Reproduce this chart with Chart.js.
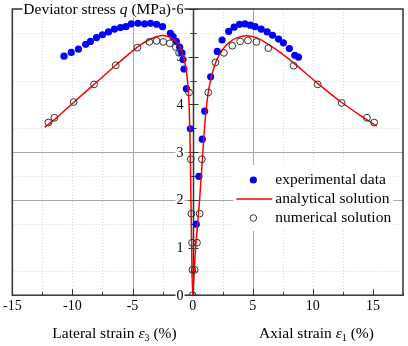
<!DOCTYPE html>
<html>
<head>
<meta charset="utf-8">
<script src="https://cdn.jsdelivr.net/npm/chart.js@4.4.1/dist/chart.umd.min.js"></script>
<style>
  html, body { margin: 0; padding: 0; background: #fff; }
  #wrap { width: 408px; height: 346px; }
</style>
</head>
<body>
<div id="wrap"><canvas id="stressChart"></canvas></div>
<script>
// valores das marcas dos eixos
const xTickValues = [-15, -10, -5, 0, 5, 10, 15];
const yTickValues = [0, 1, 2, 3, 4, 5, 6];

// dados experimentais (ramo lateral e depois ramo axial)
const expStrain = [
  -10.7, -10.1, -9.5, -8.9, -8.5, -8.0, -7.5, -7.0, -6.5, -6.0, -5.55, -5.1, -4.55, -4.0, -3.5, -3.0, -2.5,
  -1.85, -1.63, -1.35, -1.08, -0.89, -0.8, -0.72, -0.52, -0.19,
  0.3, 0.52, 0.8, 1.0, 1.5, 2.05, 2.45, 3.0, 3.45, 3.9, 4.35, 4.8, 5.2, 5.7, 6.2, 6.65, 7.15, 7.55, 8.05, 8.5, 8.8,
];
const expStress = [
  5.01, 5.09, 5.16, 5.26, 5.32, 5.40, 5.46, 5.52, 5.58, 5.61, 5.63, 5.69, 5.70, 5.69, 5.70, 5.68, 5.63,
  5.49, 5.42, 5.32, 5.20, 5.08, 4.94, 4.74, 4.33, 3.49,
  1.49, 2.49, 3.27, 3.86, 4.58, 5.11, 5.35, 5.53, 5.62, 5.68, 5.69, 5.66, 5.63, 5.58, 5.52, 5.45, 5.37, 5.29, 5.17, 5.03, 4.99,
];

// solução numérica
const numStrain = [
  -12.0, -11.5, -9.9, -8.2, -6.4, -4.6, -3.6, -3.0, -2.45, -1.9, -1.4, -1.13, -0.3, -0.15, -0.1, -0.05, -0.02, 0,
  0.17, 0.36, 0.58, 0.77, 1.3, 1.9, 2.6, 3.3, 3.95, 4.6, 5.3, 6.3, 8.4, 10.4, 12.4, 14.5, 15.1,
];
const numStress = [
  3.62, 3.72, 4.05, 4.42, 4.82, 5.19, 5.31, 5.33, 5.31, 5.28, 5.20, 5.08, 4.25, 2.85, 1.71, 1.10, 0.53, 0,
  0.53, 1.10, 1.71, 2.85, 4.25, 4.88, 5.08, 5.23, 5.32, 5.34, 5.31, 5.18, 4.81, 4.42, 4.03, 3.72, 3.62,
];

// solução analítica
const anaStrain = [
  -12.3, -11.5, -10.0, -8.2, -6.4, -4.6, -3.6, -2.7, -2.0, -1.5, -1.1, -0.8, -0.6, -0.45, -0.35, -0.28, -0.2, -0.14, -0.08, 0,
  0.25, 0.58, 0.85, 1.05, 1.3, 1.6, 2.0, 2.5, 3.0, 3.6, 4.4, 5.3, 6.3, 7.4, 8.4, 10.4, 12.4, 14.0, 15.3,
];
const anaStress = [
  3.52, 3.68, 4.02, 4.42, 4.82, 5.20, 5.36, 5.44, 5.42, 5.35, 5.22, 5.04, 4.82, 4.55, 4.25, 3.90, 3.00, 2.00, 1.00, 0,
  1.00, 2.00, 3.00, 3.70, 4.25, 4.62, 4.93, 5.15, 5.29, 5.39, 5.44, 5.40, 5.26, 5.07, 4.87, 4.44, 4.04, 3.76, 3.55,
];

const serif = '"Liberation Serif", "Times New Roman", serif';

function toPoints(xs, ys) {
  return xs.map((x, i) => ({ x: x, y: ys[i] }));
}

// desenha texto com partes em itálico / subscrito
function drawRich(ctx, parts, x, y, align) {
  let total = 0;
  parts.forEach((p) => {
    ctx.font = p.font;
    p.w = ctx.measureText(p.text).width;
    total += p.w;
  });
  let cx = align === "center" ? x - total / 2 : x;
  parts.forEach((p) => {
    ctx.font = p.font;
    ctx.fillText(p.text, cx, y + (p.dy || 0));
    cx += p.w;
  });
  return total;
}

const decor = {
  id: "decor",

  beforeDraw(chart) {
    const { ctx, width, height } = chart;
    ctx.save();
    ctx.fillStyle = "#fff";
    ctx.fillRect(0, 0, width, height);
    ctx.restore();
  },

  beforeDatasetsDraw(chart) {
    const { ctx, chartArea: a } = chart;
    const x = chart.scales.x;
    const y = chart.scales.y;
    const x0 = Math.round(x.getPixelForValue(0)) + 0.5;

    ctx.save();

    // grade vertical
    x.ticks.forEach((t) => {
      const v = t.value;
      if (v === 0 || v <= -15 || v >= 15) return;
      const px = Math.round(x.getPixelForValue(v)) + 0.5;
      ctx.beginPath();
      if (Math.abs(v) === 5) {
        ctx.strokeStyle = "#a8a8a8";
        ctx.setLineDash([]);
      } else {
        ctx.strokeStyle = "#d8d8d8";
        ctx.setLineDash([1, 2]);
      }
      ctx.lineWidth = 1;
      ctx.moveTo(px, a.top);
      ctx.lineTo(px, a.bottom);
      ctx.stroke();
    });

    // grade horizontal
    y.ticks.forEach((t) => {
      const v = t.value;
      if (v <= 0 || v >= 6) return;
      const solid = v === 2 || v === 3;
      if (!solid && Number.isInteger(v)) return;
      const py = Math.round(y.getPixelForValue(v)) + 0.5;
      ctx.beginPath();
      if (solid) {
        ctx.strokeStyle = "#a8a8a8";
        ctx.setLineDash([]);
      } else {
        ctx.strokeStyle = "#d8d8d8";
        ctx.setLineDash([1, 2]);
      }
      ctx.lineWidth = 1;
      ctx.moveTo(a.left, py);
      ctx.lineTo(a.right, py);
      ctx.stroke();
    });
    ctx.setLineDash([]);

    // moldura
    ctx.strokeStyle = "#333";
    ctx.lineWidth = 1.5;
    ctx.strokeRect(a.left, a.top, a.right - a.left, a.bottom - a.top);

    // eixo vertical em x = 0
    ctx.beginPath();
    ctx.moveTo(x0, a.top);
    ctx.lineTo(x0, a.bottom);
    ctx.stroke();

    // marcas do eixo x (para dentro)
    ctx.lineWidth = 1;
    x.ticks.forEach((t) => {
      const px = Math.round(x.getPixelForValue(t.value)) + 0.5;
      const len = xTickValues.includes(t.value) ? 6 : 3;
      ctx.beginPath();
      ctx.moveTo(px, a.bottom);
      ctx.lineTo(px, a.bottom - len);
      ctx.stroke();
    });

    // marcas do eixo y (cruzando o eixo)
    y.ticks.forEach((t) => {
      const py = Math.round(y.getPixelForValue(t.value)) + 0.5;
      const len = yTickValues.includes(t.value) ? 5 : 3;
      ctx.beginPath();
      ctx.moveTo(x0 - len, py);
      ctx.lineTo(x0 + len, py);
      ctx.stroke();
    });

    // rótulos do eixo y
    ctx.font = "14px " + serif;
    ctx.textAlign = "right";
    ctx.textBaseline = "middle";
    yTickValues.forEach((v) => {
      const py = y.getPixelForValue(v);
      const label = String(v);
      const w = ctx.measureText(label).width;
      ctx.fillStyle = "#fff";
      ctx.fillRect(x0 - 10 - w - 1, py - 6, w + 2, 12);
      ctx.fillStyle = "#000";
      ctx.fillText(label, x0 - 10, py + 1);
    });

    ctx.restore();
  },

  afterDatasetsDraw(chart) {
    const { ctx, chartArea: a } = chart;
    const x = chart.scales.x;

    ctx.save();
    ctx.fillStyle = "#000";
    ctx.textBaseline = "alphabetic";
    ctx.textAlign = "left";

    // título do eixo y, sobre a borda superior
    const f = "15.5px " + serif;
    const fi = "italic 15.5px " + serif;
    const titleParts = [
      { text: "Deviator stress ", font: f },
      { text: "q", font: fi },
      { text: " (MPa)", font: f },
    ];
    let tw = 0;
    titleParts.forEach((p) => {
      ctx.font = p.font;
      tw += ctx.measureText(p.text).width;
    });
    ctx.fillStyle = "#fff";
    ctx.fillRect(a.left + 10, a.top - 8, tw + 2, 16);
    ctx.fillStyle = "#000";
    drawRich(ctx, titleParts, a.left + 11, a.top + 5, "left");

    // títulos do eixo x
    const fs = "10px " + serif;
    drawRich(
      ctx,
      [
        { text: "Lateral strain ", font: f },
        { text: "\u03b5", font: fi },
        { text: "3", font: fs, dy: 3 },
        { text: " (%)", font: f },
      ],
      x.getPixelForValue(-6.5),
      338,
      "center",
    );
    drawRich(
      ctx,
      [
        { text: "Axial strain ", font: f },
        { text: "\u03b5", font: fi },
        { text: "1", font: fs, dy: 3 },
        { text: " (%)", font: f },
      ],
      x.getPixelForValue(10.3),
      338,
      "center",
    );

    // legenda
    const lx = a.left + 221;
    const ly = a.top + 156;
    ctx.fillStyle = "#fff";
    ctx.fillRect(lx, ly, 160, 66);

    const rows = [ly + 15, ly + 34, ly + 53];
    const mx = lx + 20;
    ctx.font = f;
    ctx.textBaseline = "middle";
    ctx.fillStyle = "#000";
    ctx.fillText("experimental data", lx + 42, rows[0]);
    ctx.fillText("analytical solution", lx + 42, rows[1]);
    ctx.fillText("numerical solution", lx + 42, rows[2]);

    ctx.fillStyle = "#0000ff";
    ctx.beginPath();
    ctx.arc(mx, rows[0], 3.6, 0, Math.PI * 2);
    ctx.fill();

    ctx.strokeStyle = "#ff0000";
    ctx.lineWidth = 1.5;
    ctx.beginPath();
    ctx.moveTo(mx - 17, rows[1]);
    ctx.lineTo(mx + 19, rows[1]);
    ctx.stroke();

    ctx.strokeStyle = "#333";
    ctx.lineWidth = 1;
    ctx.beginPath();
    ctx.arc(mx, rows[2], 3.3, 0, Math.PI * 2);
    ctx.stroke();

    ctx.restore();
  },
};

new Chart(document.getElementById("stressChart"), {
  type: "scatter",

  data: {
    datasets: [
      {
        label: "experimental data",
        data: toPoints(expStrain, expStress),
        backgroundColor: "#0000ff",
        borderColor: "#0000ff",
        pointRadius: 3.6,
        borderWidth: 0,
        order: 3,
      },
      {
        label: "analytical solution",
        type: "line",
        data: toPoints(anaStrain, anaStress),
        borderColor: "#ff0000",
        borderWidth: 1.5,
        pointRadius: 0,
        fill: false,
        tension: 0.25,
        order: 2,
      },
      {
        label: "numerical solution",
        data: toPoints(numStrain, numStress),
        backgroundColor: "rgba(0,0,0,0)",
        borderColor: "#333",
        borderWidth: 1,
        pointRadius: 3.4,
        order: 1,
      },
    ],
  },

  options: {
    responsive: true,
    maintainAspectRatio: false,
    animation: false,

    layout: {
      padding: { left: 12, right: 3, top: 9, bottom: 28 },
    },

    plugins: {
      legend: { display: false },
      tooltip: { enabled: false },
    },

    scales: {
      x: {
        type: "linear",
        min: -15,
        max: 17.5,
        grid: { display: false, drawTicks: false },
        border: { display: false },
        ticks: {
          stepSize: 2.5,
          autoSkip: false,
          maxRotation: 0,
          padding: 3,
          color: "#000",
          font: { family: serif, size: 14 },
          callback: function (value) {
            return xTickValues.includes(value) ? String(value) : "";
          },
        },
      },

      y: {
        type: "linear",
        position: { x: 0 },
        min: 0,
        max: 6,
        grid: { display: false, drawTicks: false },
        border: { display: false },
        ticks: {
          display: false,
          stepSize: 0.5,
        },
      },
    },
  },

  plugins: [decor],
});
</script>
</body>
</html>
